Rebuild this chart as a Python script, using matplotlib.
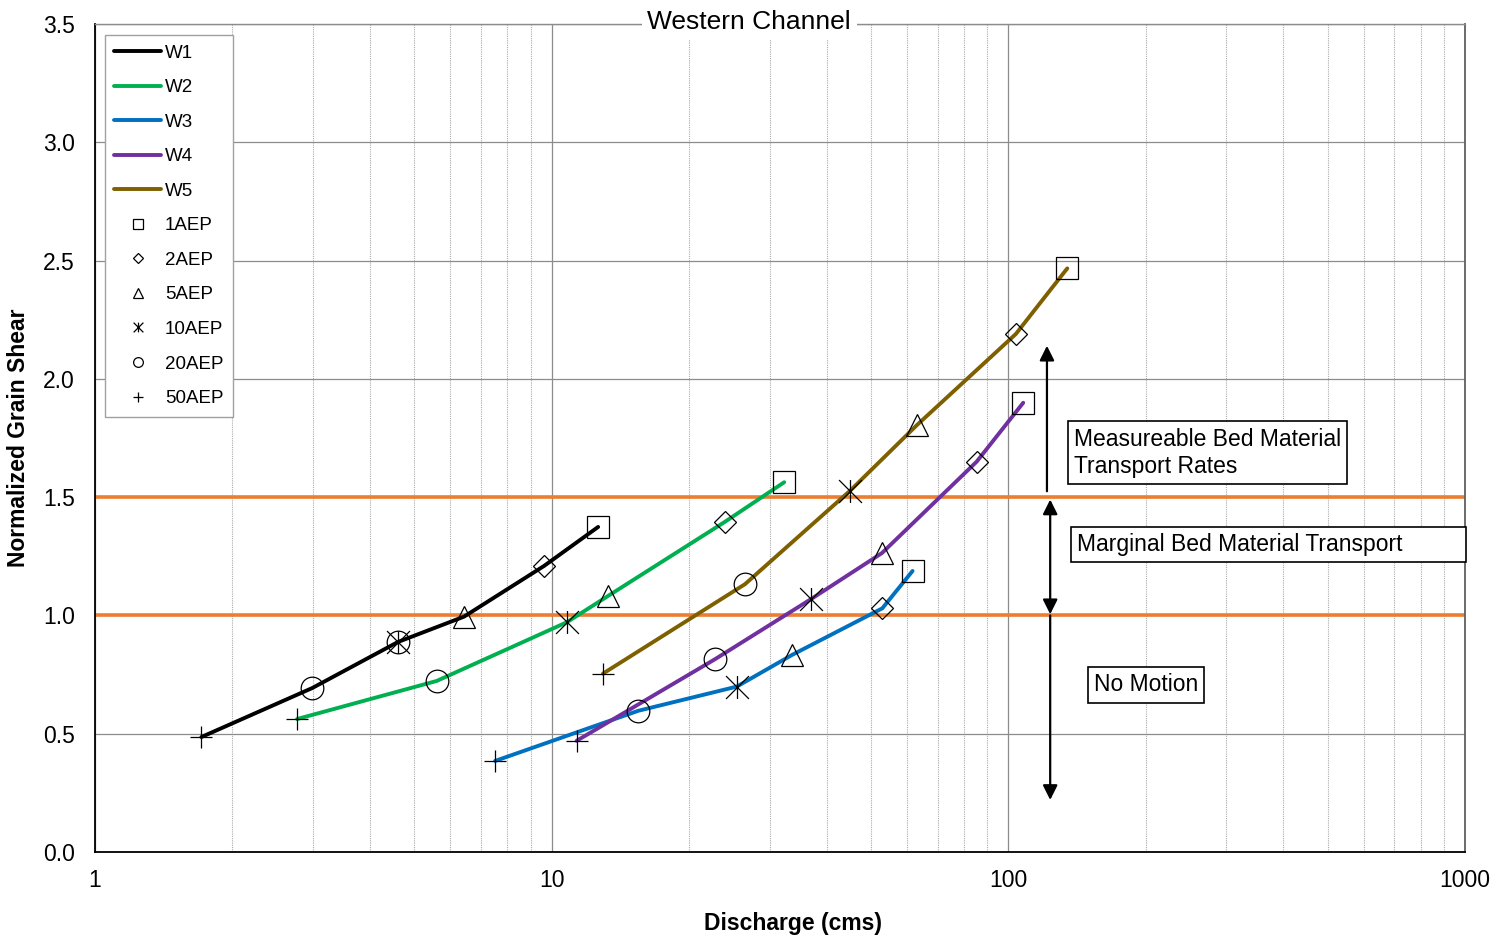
import matplotlib
matplotlib.use("Agg")
import matplotlib.pyplot as plt
from matplotlib.path import Path
from matplotlib.ticker import FixedLocator, NullFormatter, FixedFormatter

plt.rcParams['font.family'] = ['Liberation Sans', 'DejaVu Sans']

# ---- data (order of points: 50AEP, 20AEP, 10AEP, 5AEP, 2AEP, 1AEP) ----
aep_labels = ["50AEP", "20AEP", "10AEP", "5AEP", "2AEP", "1AEP"]
series_names = ["W1", "W2", "W3", "W4", "W5"]
W1_q = [1.71, 2.99, 4.61, 6.43, 9.62, 12.64]
W1_s = [0.486, 0.693, 0.888, 0.995, 1.209, 1.374]
W2_q = [2.77, 5.60, 10.79, 13.28, 23.97, 32.3]
W2_s = [0.562, 0.723, 0.971, 1.082, 1.396, 1.563]
W3_q = [7.52, 15.48, 25.42, 33.6, 52.97, 61.7]
W3_s = [0.385, 0.597, 0.699, 0.833, 1.030, 1.188]
W4_q = [11.34, 22.79, 36.98, 52.9, 85.25, 107.8]
W4_s = [0.470, 0.815, 1.069, 1.264, 1.650, 1.899]
W5_q = [12.95, 26.5, 45.02, 63.1, 103.9, 134.6]
W5_s = [0.754, 1.132, 1.527, 1.805, 2.190, 2.467]
# additional circle marker overlapping W1 10AEP
extra_circle_q = [4.61]
extra_circle_s = [0.888]

thresholds = [1.0, 1.5]
x_ticks = [1, 10, 100, 1000]
x_tick_labels = ["1", "10", "100", "1000"]
y_ticks = [0.0, 0.5, 1.0, 1.5, 2.0, 2.5, 3.0, 3.5]
y_tick_labels = ["0.0", "0.5", "1.0", "1.5", "2.0", "2.5", "3.0", "3.5"]

series_q = [W1_q, W2_q, W3_q, W4_q, W5_q]
series_s = [W1_s, W2_s, W3_s, W4_s, W5_s]
series_colors = ["#000000", "#00B050", "#0070C0", "#7030A0", "#7F6000"]

# asterisk marker: X with a vertical bar
ast_path = Path(
    [(-0.5, -0.5), (0.5, 0.5), (-0.5, 0.5), (0.5, -0.5), (0, -0.5), (0, 0.5)],
    [Path.MOVETO, Path.LINETO, Path.MOVETO, Path.LINETO, Path.MOVETO, Path.LINETO])
aep_markers = ["+", "o", ast_path, "^", "D", "s"]
aep_sizes = [15.5, 16.3, 16.5, 16, 11.2, 16.5]
legend_sizes = [7, 7, 7, 7, 5, 7]

fig = plt.figure(figsize=(14.99, 9.39), dpi=100)
ax = fig.add_axes([95/1499, 1-852/939, (1465-95)/1499, (852-24)/939])

ax.set_xscale("log")
ax.set_xlim(1, 1000)
ax.set_ylim(0, 3.5)

# grid
ax.xaxis.set_major_locator(FixedLocator(x_ticks))
ax.xaxis.set_major_formatter(FixedFormatter(x_tick_labels))
ax.xaxis.set_minor_locator(FixedLocator([m * d for d in [1, 10, 100] for m in range(2, 10)]))
ax.xaxis.set_minor_formatter(NullFormatter())
ax.yaxis.set_major_locator(FixedLocator(y_ticks))
ax.yaxis.set_major_formatter(FixedFormatter(y_tick_labels))
ax.grid(which="major", axis="both", color="#8c8c8c", linewidth=0.9, linestyle="-")
ax.grid(which="minor", axis="x", color="#ababab", linewidth=0.8, linestyle=(0, (1, 1)))
ax.set_axisbelow(True)
ax.tick_params(which="both", length=0, labelsize=16.5, colors="#000000")
ax.tick_params(axis="y", pad=14.5)
ax.tick_params(axis="x", pad=12)

for side in ["left", "bottom"]:
    ax.spines[side].set_color("black")
    ax.spines[side].set_linewidth(1.3)
ax.spines["top"].set_color("#8c8c8c")
ax.spines["top"].set_linewidth(1.0)
ax.spines["right"].set_color("#606060")
ax.spines["right"].set_linewidth(1.3)

# threshold lines
for t in thresholds:
    ax.axhline(t, color="#ED7D31", linewidth=2.6, zorder=2)

handles = []
for name, q, s, c in zip(series_names, series_q, series_s, series_colors):
    h, = ax.plot(q, s, color=c, linewidth=2.8, solid_capstyle="round",
                 solid_joinstyle="round", zorder=3, label=name)
    handles.append(h)

for i, (lab, mk, ms, lms) in enumerate(zip(aep_labels, aep_markers, aep_sizes, legend_sizes)):
    xs = [q[i] for q in series_q]
    ys = [s[i] for s in series_s]
    ax.plot(xs, ys, linestyle="none", marker=mk, markersize=ms, markerfacecolor="none",
            markeredgecolor="black", markeredgewidth=0.9, zorder=4)
    hh, = ax.plot([], [], linestyle="none", marker=mk, markersize=lms, markerfacecolor="none",
                  markeredgecolor="black", markeredgewidth=0.9, label=lab)
    handles.append(hh)
ax.plot(extra_circle_q, extra_circle_s, linestyle="none", marker="o", markersize=16.3,
        markerfacecolor="none", markeredgecolor="black", markeredgewidth=0.9, zorder=4)

# legend order: lines, then 1AEP..50AEP
leg_handles = handles[:5] + handles[5:][::-1]
leg = ax.legend(handles=leg_handles, loc="upper left",
                bbox_to_anchor=((105-95)/1370, (852-35)/828),
                fontsize=13.5, frameon=True, fancybox=False, framealpha=1,
                edgecolor="#a0a0a0", handlelength=2.5, handletextpad=0.2,
                labelspacing=0.93, borderpad=0.5, borderaxespad=0)
leg.get_frame().set_linewidth(1.0)

# title on top spine
ax.text(0.4775, 1.002, "Western Channel", transform=ax.transAxes, ha="center", va="center",
        fontsize=19, bbox=dict(facecolor="white", edgecolor="none", pad=4), zorder=6)

ax.set_xlabel("Discharge (cms)", fontsize=16.5, fontweight="bold", labelpad=15)
ax.xaxis.set_label_coords(0.5095, -0.072)
ax.set_ylabel("Normalized Grain Shear", fontsize=16.5, fontweight="bold", labelpad=9)

# arrows
arrow_kw = dict(arrowstyle="-|>", color="black", lw=1.6, mutation_scale=22,
                shrinkA=0, shrinkB=0)
ax.annotate("", xy=(121.5, 2.14), xytext=(121.5, 1.525), arrowprops=arrow_kw, zorder=5)
ax.annotate("", xy=(123.5, 1.49), xytext=(123.5, 1.005),
            arrowprops=dict(arrowstyle="<|-|>", color="black", lw=1.6, mutation_scale=22,
                            shrinkA=0, shrinkB=0), zorder=5)
ax.annotate("", xy=(123.5, 0.22), xytext=(123.5, 1.0), arrowprops=arrow_kw, zorder=5)

box_kw = dict(facecolor="white", edgecolor="black", linewidth=1.2, pad=4.5)
ax.text(139.3, 1.687, "Measureable Bed Material\nTransport Rates", fontsize=16.5,
        ha="left", va="center", linespacing=1.25, bbox=box_kw, zorder=6)
ax.text(141.3, 1.30, "Marginal Bed Material Transport" + " " * 9, fontsize=16.5,
        ha="left", va="center", bbox=box_kw, zorder=6)
ax.text(154, 0.706, "No Motion", fontsize=16.5, ha="left", va="center", bbox=box_kw, zorder=6)

fig.savefig("out.png", dpi=100)
